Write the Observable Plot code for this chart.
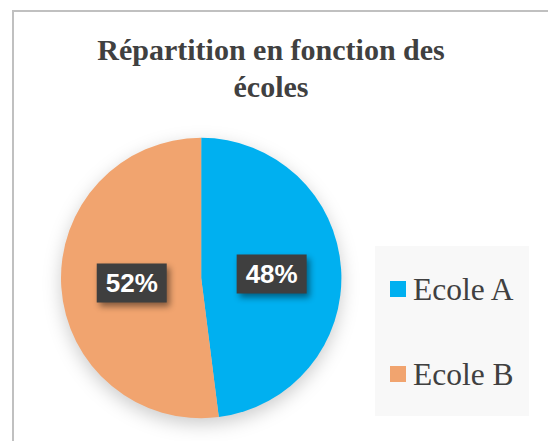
<!DOCTYPE html>
<html><head><meta charset="utf-8">
<script src="https://cdn.jsdelivr.net/npm/d3@7"></script>
<script src="https://cdn.jsdelivr.net/npm/@observablehq/plot@0.6"></script>
<style>
body{margin:0;background:#fff}
#wrap{position:relative;width:548px;height:441px;overflow:hidden;background:#fff}
#frame{position:absolute;left:12px;top:10px;width:600px;height:500px;border-left:2px solid #C0C0C0;border-top:2px solid #C0C0C0}
#title{position:absolute;left:71px;width:400px;top:31px;text-align:center;font-family:"Liberation Serif","Times New Roman",serif;font-weight:bold;font-size:30px;line-height:37px;color:#404040}
#legend{position:absolute;left:375px;top:246px;width:154px;height:170px;background:#F8F8F8}
.item{position:absolute;left:15px;height:40px;font-family:"Liberation Serif","Times New Roman",serif;font-size:31.5px;color:#404040;white-space:nowrap}
.sw{position:absolute;left:0;width:16px;height:16px}
.lt{position:absolute;left:37px;line-height:1}
#chart{position:absolute;left:0;top:0}
</style></head>
<body><div id="wrap"><div id="frame"></div><div id="legend"></div><div id="chart"></div><div id="title"></div></div>
<script>
const categories = ["Ecole A", "Ecole B"];
const values = [48, 52];
const labels = ["48%", "52%"];
const colors = ["#00B0F0", "#F1A46F"];
const titleLines = ["Répartition en fonction des", "écoles"];

const data = categories.map((name, i) => ({name, value: values[i], label: labels[i]}));
const pie = d3.pie().sort(null).value(d => d.value)(data);
const unitArc = d3.arc().innerRadius(0).outerRadius(1);
const labelData = pie.map(p => { const [x, y] = unitArc.centroid(p); return {x, y, label: p.data.label}; });
const color = Plot.scale({color: {domain: categories, range: colors}});

const slices = (index, scales) => {
  const cx = scales.x(0), cy = scales.y(0), r = scales.x(1) - scales.x(0);
  const arc = d3.arc().innerRadius(0).outerRadius(r);
  const g = d3.create("svg:g").attr("transform", `translate(${cx},${cy})`)
    .style("filter", "drop-shadow(0px 6px 9px rgba(0,0,0,0.2))");
  g.selectAll("path").data(pie).join("path").attr("d", arc).attr("fill", d => color.apply(d.data.name));
  return g.node();
};
const box = {draw(ctx) { ctx.rect(-35, -19.5, 70, 39); }};

const svg = Plot.plot({
  width: 548, height: 441, margin: 0,
  style: {background: "transparent", overflow: "visible"},
  x: {domain: [-1, 1], range: [61, 341.4], axis: null},
  y: {domain: [-1, 1], range: [137.6, 418.4], axis: null},
  marks: [
    slices,
    Plot.dot(labelData, {x: "x", y: "y", symbol: box, r: 10, fill: "#3F3F3F"}),
    Plot.text(labelData, {x: "x", y: "y", text: "label", fill: "white", fontSize: 26, fontWeight: "bold", fontFamily: "Liberation Sans, Arial, sans-serif", dy: 1})
  ]
});
d3.select(svg).selectAll("g[aria-label=dot] path").style("filter", "drop-shadow(3px 4px 3px rgba(0,0,0,0.45))");
document.getElementById("chart").appendChild(svg);

document.getElementById("title").innerHTML = titleLines.join("<br>");
const legend = d3.select("#legend");
categories.forEach((c, i) => {
  const it = legend.append("div").attr("class", "item").style("top", (35 + i * 85) + "px");
  it.append("div").attr("class", "sw").style("top", "0px").style("background", color.apply(c));
  it.append("div").attr("class", "lt").style("top", "-7px").style("left", "23px").text(c);
});
</script></body></html>
